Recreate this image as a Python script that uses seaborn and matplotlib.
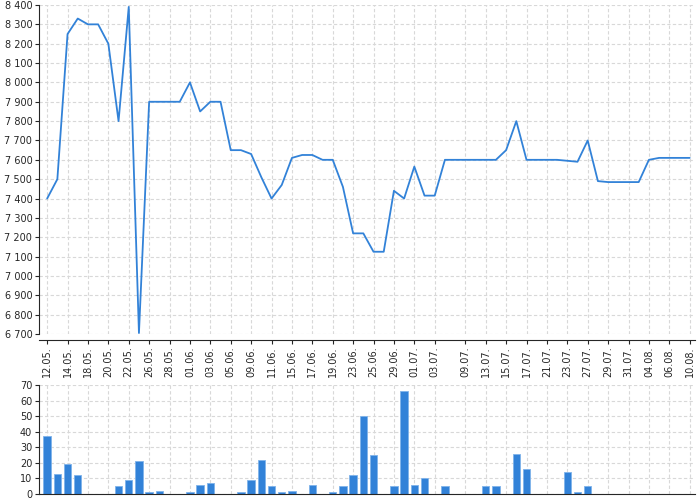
import numpy as np
import pandas as pd
import matplotlib
matplotlib.use('Agg')
import matplotlib.pyplot as plt
import seaborn as sns

# dates of the data points (categorical, evenly spaced)
dates = ['12.05', '13.05', '14.05', '15.05', '18.05', '19.05', '20.05', '21.05',
         '22.05', '25.05', '26.05', '27.05', '28.05', '29.05', '01.06', '02.06',
         '03.06', '04.06', '05.06', '08.06', '09.06', '10.06', '11.06', '12.06',
         '15.06', '16.06', '17.06', '18.06', '19.06', '22.06', '23.06', '24.06',
         '25.06', '26.06', '29.06', '30.06', '01.07', '02.07', '03.07', '06.07',
         '08.07', '09.07', '10.07', '13.07', '14.07', '15.07', '16.07', '17.07',
         '20.07', '21.07', '22.07', '23.07', '24.07', '27.07', '28.07', '29.07',
         '30.07', '31.07', '03.08', '04.08', '05.08', '06.08', '07.08', '10.08']

# price line
price = [7400, 7500, 8250, 8330, 8300, 8300, 8200, 7800,
         8390, 6705, 7900, 7900, 7900, 7900, 8000, 7850,
         7900, 7900, 7650, 7650, 7630, 7510, 7400, 7470,
         7610, 7625, 7625, 7600, 7600, 7460, 7220, 7220,
         7125, 7125, 7440, 7400, 7565, 7415, 7415, 7600,
         7600, 7600, 7600, 7600, 7600, 7650, 7800, 7600,
         7600, 7600, 7600, 7595, 7590, 7700, 7490, 7485,
         7485, 7485, 7485, 7600, 7610, 7610, 7610, 7610]

# volume bars
volume = [37, 13, 19, 12, 0, 0, 0, 5,
          9, 21, 1, 2, 0, 0, 1, 6,
          7, 0, 0, 1, 9, 22, 5, 1,
          2, 0, 6, 0, 1, 5, 12, 50,
          25, 0, 5, 66, 6, 10, 0, 5,
          0, 0, 0, 5, 5, 0, 26, 16,
          0, 0, 0, 14, 1, 5, 0, 0,
          0, 0, 0, 0, 0, 0, 0, 0]

# dates that get a label on the axis
tick_dates = ['12.05', '14.05', '18.05', '20.05', '22.05', '26.05', '28.05', '01.06',
              '03.06', '05.06', '09.06', '11.06', '15.06', '17.06', '19.06', '23.06',
              '25.06', '29.06', '01.07', '03.07', '09.07', '13.07', '15.07', '17.07',
              '21.07', '23.07', '27.07', '29.07', '31.07', '04.08', '06.08', '10.08']

df = pd.DataFrame({'date': dates, 'price': price, 'volume': volume})

sns.set_style('white')
plt.rcParams['font.family'] = ['DejaVu Sans']

blue = '#3282d8'
grid_kw = dict(color='#d8d8d8', linestyle=(0, (3, 2)), linewidth=0.8)

fig = plt.figure(figsize=(7, 5), dpi=100)
ax1 = fig.add_axes([0.056, 0.332, 0.937, 0.658])
ax2 = fig.add_axes([0.056, 0.012, 0.937, 0.218])

tick_pos = [dates.index(d) for d in tick_dates]
xlim = (-0.78, 63.53)

# price line
sns.lineplot(data=df, x='date', y='price', ax=ax1, color=blue, linewidth=1.3, sort=False)
ax1.set_xlim(*xlim)
ax1.set_ylim(6700, 8400)
ax1.set_yticks(np.arange(6700, 8401, 100))
ax1.set_yticklabels(['{:,}'.format(v).replace(',', ' ') for v in range(6700, 8401, 100)])
ax1.set_xticks(tick_pos)
ax1.set_xticklabels([d + '.' for d in tick_dates])
ax1.set_xlabel('')
ax1.set_ylabel('')
ax1.grid(True, **grid_kw)
for s in ['top', 'right']:
    ax1.spines[s].set_visible(False)
ax1.spines['bottom'].set_position(('outward', 4))
ax1.tick_params(axis='both', labelsize=7, length=3, width=0.8, pad=2, left=True, bottom=True)
ax1.tick_params(axis='x', labelrotation=90)

# volume bars
sns.barplot(data=df, x='date', y='volume', ax=ax2, color=blue, saturation=1,
            width=0.72, edgecolor='#7fb3ea', linewidth=0.6)
ax2.set_xlim(*xlim)
ax2.set_ylim(0, 70)
ax2.set_yticks(np.arange(0, 71, 10))
ax2.set_xticks(tick_pos)
ax2.set_xticklabels([])
ax2.set_xlabel('')
ax2.set_ylabel('')
ax2.grid(True, **grid_kw)
ax2.set_axisbelow(True)
for s in ['top', 'right']:
    ax2.spines[s].set_visible(False)
ax2.tick_params(axis='y', labelsize=7, length=3, width=0.8, pad=2, left=True)
ax2.tick_params(axis='x', length=0)

fig.savefig('out.png', dpi=100)
